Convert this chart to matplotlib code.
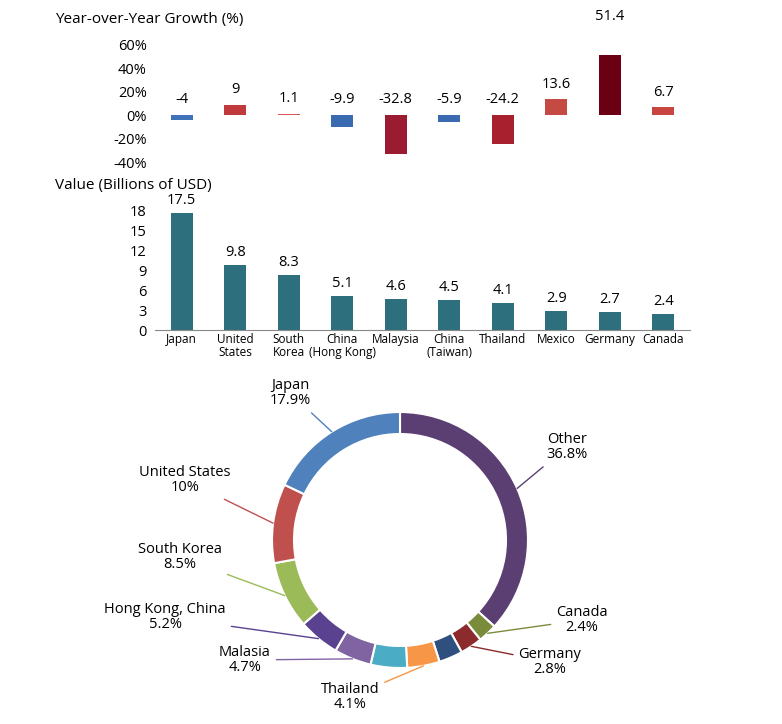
import numpy as np
import matplotlib.pyplot as plt

plt.rcParams['font.family'] = ['Open Sans', 'DejaVu Sans']

# data
countries = ["Japan", "United\nStates", "South\nKorea", "China\n(Hong Kong)", "Malaysia",
             "China\n(Taiwan)", "Thailand", "Mexico", "Germany", "Canada"]
growth = [-4, 9, 1.1, -9.9, -32.8, -5.9, -24.2, 13.6, 51.4, 6.7]
growth_colors = ["#3f72b8", "#c0393b", "#d9534f", "#3a6bb0", "#9b1b30",
                 "#3a6bb0", "#a8202e", "#c54a44", "#6b0015", "#c9453f"]
values = [17.5, 9.8, 8.3, 5.1, 4.6, 4.5, 4.1, 2.9, 2.7, 2.4]

share_labels = ["Other", "Canada", "Germany", "", "Thailand", "", "Malasia",
                "Hong Kong, China", "South Korea", "United States", "Japan"]
shares = [36.8, 2.4, 2.8, 3.0, 4.1, 4.6, 4.7, 5.2, 8.5, 10, 17.9]
share_colors = ["#5b3f73", "#7a8c3c", "#8b2b2b", "#2f4f7f", "#f79646", "#4bacc6",
                "#8064a2", "#5a4290", "#9bbb59", "#c0504d", "#4f81bd"]
# label text positions in pixels (x, y from top)
label_pos = {"Other": (567, 447), "Canada": (582, 620), "Germany": (550, 662),
             "Thailand": (350, 697), "Malasia": (245, 660), "Hong Kong, China": (165, 617),
             "South Korea": (180, 557), "United States": (185, 480), "Japan": (290, 393)}

W, H = 782, 724
fig = plt.figure(figsize=(W / 100, H / 100), dpi=100)
x = np.arange(len(countries))

# growth chart
ax1 = fig.add_axes([155 / W, 1 - 162 / H, 535 / W, 117 / H])
ax1.bar(x, growth, width=0.42, color=growth_colors)
for i, v in enumerate(growth):
    off = 28 if v > 40 else 11
    ax1.annotate(f"{v:g}", (i, max(v, 0)), xytext=(0, off), textcoords="offset points",
                 ha="center", va="center", fontsize=10.5, annotation_clip=False)
ax1.set_xlim(-0.5, 9.5)
ax1.set_ylim(-40, 60)
ax1.set_yticks([-40, -20, 0, 20, 40, 60])
ax1.set_yticklabels([f"{t}%" for t in [-40, -20, 0, 20, 40, 60]], fontsize=10.5)
ax1.set_xticks([])
for s in ax1.spines.values():
    s.set_visible(False)
ax1.tick_params(axis="y", length=0, pad=6)
fig.text(55 / W, 1 - 20 / H, "Year-over-Year Growth (%)", fontsize=11, va="center")

# value chart
ax2 = fig.add_axes([155 / W, 1 - 330 / H, 535 / W, 120 / H])
ax2.bar(x, values, width=0.42, color="#2e6f7e")
for i, v in enumerate(values):
    ax2.annotate(f"{v:g}", (i, v), xytext=(0, 9), textcoords="offset points",
                 ha="center", va="center", fontsize=10.5, annotation_clip=False)
ax2.set_xlim(-0.5, 9.5)
ax2.set_ylim(0, 18)
ax2.set_yticks(range(0, 19, 3))
ax2.tick_params(axis="y", length=0, labelsize=10.5, pad=6)
ax2.set_xticks(x)
ax2.set_xticklabels(countries, fontsize=8.5, linespacing=1.0)
ax2.tick_params(axis="x", length=0, pad=2)
for k in ["top", "right", "left"]:
    ax2.spines[k].set_visible(False)
ax2.spines["bottom"].set_color("#888888")
fig.text(55 / W, 1 - 185 / H, "Value (Billions of USD)", fontsize=11, va="center")

# donut
ax3 = fig.add_axes([0, 0, 1, 364 / H])
cx, cy, r = 400, H - 540, 128
wedges, _ = ax3.pie(shares, colors=share_colors, startangle=90, counterclock=False,
                    center=(cx, cy), radius=r, frame=True,
                    wedgeprops=dict(width=22, edgecolor="white", linewidth=1.5))
ax3.set_xlim(0, W)
ax3.set_ylim(0, 364)
ax3.set_aspect("equal")
ax3.axis("off")
for w, lab, val, col in zip(wedges, share_labels, shares, share_colors):
    if not lab:
        continue
    ang = np.deg2rad((w.theta1 + w.theta2) / 2)
    px, py = cx + r * np.cos(ang), cy + r * np.sin(ang)
    tx, ty = label_pos[lab]
    ax3.annotate(f"{lab}\n{val:g}%", (px, py), xytext=(tx, H - ty), ha="center", va="center",
                 fontsize=10.5, linespacing=1.05,
                 arrowprops=dict(arrowstyle="-", color=col, lw=1, shrinkA=2, shrinkB=0))

fig.savefig("out.png", dpi=100, facecolor="white")
